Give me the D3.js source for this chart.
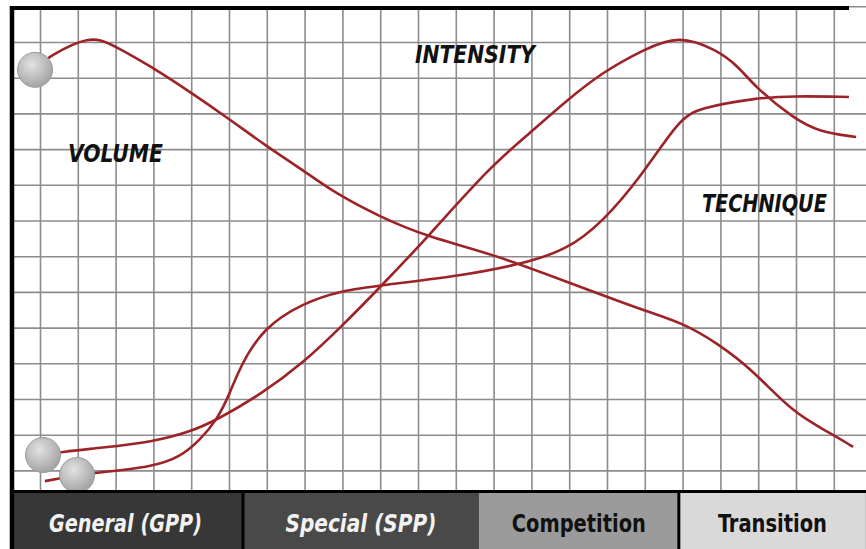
<!DOCTYPE html>
<html>
<head>
<meta charset="utf-8">
<script src="https://cdn.jsdelivr.net/npm/d3@7"></script>
<style>
body { margin: 0; background: #fff; }
svg { display: block; }
</style>
</head>
<body>
<script>
// periodisation curves, x in grid columns, y in grid rows (0 = bottom row line)
var volumeX    = [-0.13, 0.21, 1.32, 1.93, 2.96, 3.97, 4.97, 5.95, 6.96, 7.75, 8.99, 10.26, 11.90, 13.94, 15.93, 17.01, 17.91, 18.86, 19.92, 20.90, 21.51];
var volumeY    = [11.27, 11.58, 12.20, 11.92, 11.30, 10.60, 9.87, 9.11, 8.41, 7.80, 7.10, 6.54, 6.09, 5.28, 4.49, 4.13, 3.57, 2.81, 1.61, 1.05, 0.66];

var intensityX = [0.08, 0.58, 1.59, 2.99, 3.97, 4.68, 5.90, 6.96, 7.94, 9.05, 10.26, 11.90, 12.96, 13.94, 14.89, 15.95, 16.90, 17.91, 18.49, 18.92, 19.92, 20.61, 21.59];
var intensityY = [0.43, 0.52, 0.63, 0.80, 1.08, 1.41, 2.17, 3.01, 3.99, 5.19, 6.54, 8.50, 9.45, 10.37, 11.16, 11.78, 12.20, 11.78, 11.30, 10.74, 9.87, 9.48, 9.34];

var techniqueX = [0.13, 0.98, 1.46, 2.99, 3.70, 4.23, 4.68, 5.03, 5.29, 5.90, 6.96, 7.94, 9.05, 10.93, 12.65, 13.94, 14.89, 15.93, 16.90, 17.43, 18.92, 19.92, 21.40];
var techniqueY = [-0.30, -0.13, -0.07, 0.10, 0.37, 0.85, 1.41, 2.17, 2.90, 3.99, 4.69, 5.03, 5.19, 5.42, 5.75, 6.17, 6.96, 8.27, 9.82, 10.15, 10.43, 10.49, 10.46];

var seriesNames = ["VOLUME", "INTENSITY", "TECHNIQUE"];
// start markers (grey balls)
var markerX = [-0.13, 0.08, 0.98];
var markerY = [11.22, 0.43, -0.13];

var phaseNames  = ["General (GPP)", "Special (SPP)", "Competition", "Transition"];
var phaseBounds = [-0.74, 5.37, 11.61, 16.90, 21.85];

var width = 866, height = 549,
	plotLeft = 12, plotTop = 8, plotRight = 866, plotBottom = 491,
	bandTop = 493,
	fontStack = "'Liberation Sans Narrow', 'DejaVu Sans Condensed', 'Roboto', sans-serif";

var x = d3.scaleLinear().domain([0, 21]).range([40, 40 + 21 * 37.8]);
var y = d3.scaleLinear().domain([0, 13]).range([470.4, 6.3]);

var svg = d3.select("body").append("svg")
	.attr("width", width)
	.attr("height", height);

var defs = svg.append("defs");
var grad = defs.append("radialGradient")
	.attr("id", "ball")
	.attr("cx", "40%").attr("cy", "35%").attr("r", "65%");
grad.append("stop").attr("offset", "0%").attr("stop-color", "#e2e2e2");
grad.append("stop").attr("offset", "100%").attr("stop-color", "#a4a4a4");

defs.append("clipPath").attr("id", "plot")
	.append("rect")
	.attr("x", plotLeft).attr("y", plotTop)
	.attr("width", plotRight - plotLeft).attr("height", plotBottom - plotTop);

/******** GRID ********/
svg.append("g")
	.attr("class", "xgrid")
	.attr("transform", "translate(0," + plotBottom + ")")
	.call(d3.axisBottom(x).tickValues(d3.range(0, 22)).tickSize(-(plotBottom - plotTop)).tickFormat(""))
	.call(function (g) { g.select(".domain").remove(); });

svg.append("g")
	.attr("class", "ygrid")
	.attr("transform", "translate(" + plotLeft + ",0)")
	.call(d3.axisLeft(y).tickValues(d3.range(0, 14)).tickSize(-(plotRight - plotLeft)).tickFormat(""))
	.call(function (g) { g.select(".domain").remove(); });

svg.selectAll(".xgrid line, .ygrid line")
	.attr("stroke", "#8c8c8c")
	.attr("stroke-width", 1.6);

/******** CURVES ********/
var line = d3.line()
	.x(function (d) { return x(d[0]); })
	.y(function (d) { return y(d[1]); })
	.curve(d3.curveBasis);

var seriesData = [
	d3.zip(volumeX, volumeY),
	d3.zip(intensityX, intensityY),
	d3.zip(techniqueX, techniqueY)
];

svg.append("g")
	.attr("clip-path", "url(#plot)")
	.selectAll("path")
	.data(seriesData)
	.enter()
	.append("path")
	.attr("d", line)
	.attr("fill", "none")
	.attr("stroke", "#9c2327")
	.attr("stroke-width", 2.6);

svg.selectAll(".ball")
	.data(d3.zip(markerX, markerY))
	.enter()
	.append("circle")
	.attr("class", "ball")
	.attr("cx", function (d) { return x(d[0]); })
	.attr("cy", function (d) { return y(d[1]); })
	.attr("r", 17.5)
	.attr("fill", "url(#ball)")
	.attr("stroke", "#9a9a9a")
	.attr("stroke-width", 1);

/******** CURVE LABELS ********/
var labelPos = [[0.74, 8.64], [9.92, 11.41], [17.51, 7.24]];
var labelLen = [95, 120, 125];
svg.selectAll(".label")
	.data(seriesNames)
	.enter()
	.append("text")
	.attr("class", "label")
	.attr("x", function (d, i) { return x(labelPos[i][0]); })
	.attr("y", function (d, i) { return y(labelPos[i][1]); })
	.attr("font-family", fontStack)
	.attr("font-weight", "bold")
	.attr("font-style", "italic")
	.attr("font-size", 25)
	.attr("textLength", function (d, i) { return labelLen[i]; })
	.attr("lengthAdjust", "spacingAndGlyphs")
	.attr("fill", "#111")
	.text(function (d) { return d; });

/******** PHASE BAND ********/
svg.append("rect")
	.attr("x", plotLeft).attr("y", plotBottom - 1)
	.attr("width", plotRight - plotLeft).attr("height", height - plotBottom + 1)
	.attr("fill", "#000");

var bandFill = ["#373737", "#494949", "#9b9b9b", "#d9d9d9"];
var bandText = ["#f2f2f2", "#f2f2f2", "#111", "#111"];
var bandItalic = ["italic", "italic", "normal", "normal"];
var bandLen = [153, 151, 134, 109];

var band = svg.selectAll(".phase")
	.data(phaseNames)
	.enter()
	.append("g")
	.attr("class", "phase");

band.append("rect")
	.attr("x", function (d, i) { return x(phaseBounds[i]); })
	.attr("y", bandTop)
	.attr("width", function (d, i) { return x(phaseBounds[i + 1]) - x(phaseBounds[i]); })
	.attr("height", height - bandTop)
	.attr("fill", function (d, i) { return bandFill[i]; });

band.append("text")
	.attr("x", function (d, i) { return (x(phaseBounds[i]) + x(phaseBounds[i + 1])) / 2 - (i == 0 ? 2 : 0); })
	.attr("y", 532)
	.attr("text-anchor", "middle")
	.attr("font-family", fontStack)
	.attr("font-weight", "bold")
	.attr("font-style", function (d, i) { return bandItalic[i]; })
	.attr("font-size", 25)
	.attr("textLength", function (d, i) { return bandLen[i]; })
	.attr("lengthAdjust", "spacingAndGlyphs")
	.attr("fill", function (d, i) { return bandText[i]; })
	.text(function (d) { return d; });

// dividers between GPP/SPP and Competition/Transition
[1, 3].forEach(function (k) {
	svg.append("line")
		.attr("x1", x(phaseBounds[k])).attr("x2", x(phaseBounds[k]))
		.attr("y1", bandTop).attr("y2", height)
		.attr("stroke", "#000").attr("stroke-width", 3);
});

/******** FRAME ********/
svg.append("line")
	.attr("x1", plotLeft - 2).attr("x2", 849)
	.attr("y1", plotTop).attr("y2", plotTop)
	.attr("stroke", "#000").attr("stroke-width", 4);
svg.append("line")
	.attr("x1", plotLeft).attr("x2", plotLeft)
	.attr("y1", plotTop - 2).attr("y2", height)
	.attr("stroke", "#000").attr("stroke-width", 4.5);
</script>
</body>
</html>
